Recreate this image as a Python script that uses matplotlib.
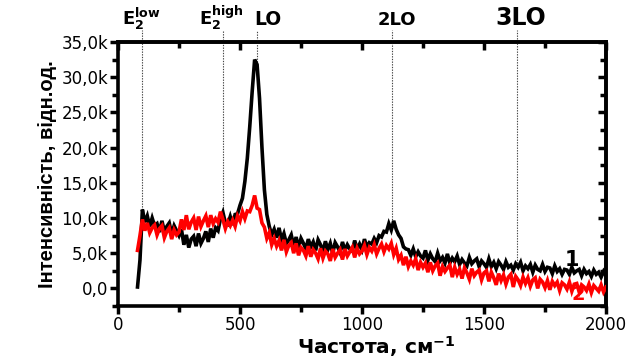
import numpy as np
import matplotlib
matplotlib.use("Agg")
import matplotlib.pyplot as plt
from matplotlib.ticker import MultipleLocator, FuncFormatter, NullFormatter

plt.rcParams['mathtext.fontset'] = 'dejavusans'

# Raman shift grid, cm^-1 (step 10)
shift = np.arange(80, 2001, 10)

# Spectrum 1 (black), intensity in thousands
spec1 = [
    0.2, 4.0, 11.2, 9.4, 10.3, 8.8, 10.0, 8.9, 9.2, 8.0,
    9.6, 8.1, 8.8, 9.3, 7.7, 8.9, 8.2, 7.5, 8.4, 6.2,
    7.6, 5.8, 7.0, 7.4, 6.0, 7.8, 6.4, 7.1, 8.1, 6.6,
    8.5, 7.2, 8.6, 8.2, 9.9, 10.8, 9.3, 9.1, 10.2, 9.0,
    10.5, 10.6, 11.8, 12.8, 15.2, 18.5, 23.0, 28.0, 32.5, 31.8,
    27.0, 20.0, 14.0, 10.5, 8.8, 7.6, 8.4, 7.2, 8.6, 6.9,
    7.8, 6.4, 6.9, 7.6, 6.0, 7.3, 5.8, 7.1, 6.4, 5.6,
    7.0, 5.9, 6.6, 5.4, 6.9, 6.2, 5.2, 6.7, 5.5, 6.4,
    5.0, 6.5, 5.9, 5.1, 6.6, 5.4, 6.2, 5.6, 5.3, 6.8,
    5.6, 6.3, 5.5, 7.0, 5.9, 6.5, 6.3, 7.1, 6.5, 7.5,
    7.3, 8.1, 8.0, 9.2, 8.3, 9.6, 8.4, 7.6, 7.1, 5.9,
    5.6, 5.5, 4.7, 5.6, 4.5, 5.2, 4.6, 4.3, 5.4, 4.0,
    4.9, 4.2, 3.8, 5.0, 3.9, 4.4, 3.6, 4.9, 3.6, 4.3,
    3.8, 4.6, 3.4, 4.1, 3.6, 3.2, 4.4, 3.5, 3.9, 4.2,
    3.1, 3.9, 3.5, 3.0, 4.2, 3.1, 3.7, 2.8, 3.8, 3.3,
    2.7, 3.8, 3.0, 3.3, 2.6, 3.5, 3.0, 3.7, 2.5, 3.2,
    2.8, 3.4, 2.3, 3.3, 2.7, 2.5, 3.4, 2.4, 3.0, 2.9,
    2.1, 3.2, 2.4, 2.8, 2.0, 2.7, 2.6, 2.0, 3.0, 2.2,
    2.5, 2.7, 1.8, 2.7, 2.1, 2.4, 1.7, 2.6, 2.0, 2.3,
    1.6, 2.4, 1.8,
]

# Spectrum 2 (red), intensity in thousands
spec2 = [
    5.4, 7.5, 9.8, 8.2, 9.3, 7.9, 8.6, 9.0, 7.6, 8.5,
    8.9, 7.2, 8.1, 8.6, 7.0, 8.3, 7.6, 8.0, 9.8, 8.3,
    10.4, 8.4, 9.4, 10.0, 8.3, 10.2, 8.8, 9.6, 10.3, 8.7,
    10.4, 9.2, 9.9, 9.4, 10.9, 9.8, 8.5, 9.5, 8.9, 9.7,
    8.8, 10.3, 9.6, 10.9, 9.9, 11.0, 10.9, 11.8, 13.2, 11.4,
    11.2, 9.3, 8.7, 7.1, 7.9, 6.2, 7.1, 6.0, 6.8, 5.4,
    6.9, 5.2, 6.1, 6.5, 5.0, 6.4, 4.7, 5.8, 5.4, 4.6,
    6.0, 4.5, 5.5, 5.0, 4.2, 5.7, 4.3, 5.3, 4.9, 3.9,
    5.6, 4.4, 5.0, 5.5, 4.1, 5.6, 4.6, 5.2, 5.8, 4.4,
    5.7, 4.9, 5.3, 6.1, 4.8, 5.8, 5.3, 6.2, 4.9, 5.7,
    6.3, 5.2, 6.1, 5.6, 6.4, 4.8, 5.7, 4.1, 4.7, 3.3,
    4.5, 3.1, 3.9, 3.3, 4.2, 2.6, 3.7, 3.0, 3.6, 2.3,
    3.7, 2.5, 3.2, 3.6, 1.8, 3.1, 2.4, 2.9, 3.3, 1.6,
    3.0, 2.0, 2.7, 1.4, 2.9, 2.2, 1.3, 2.8, 1.8, 2.3,
    2.6, 1.2, 2.2, 2.5, 1.0, 2.3, 1.5, 0.5, 2.1, 1.1,
    1.9, 0.6, 1.6, 2.0, 0.2, 1.7, 1.2, 0.4, 1.6, 0.7,
    1.5, 0.3, 1.2, 1.5, 0.0, 1.3, 0.9, 0.1, 1.1, -0.2,
    1.0, 0.4, 0.9, -0.3, 0.8, 0.5, -0.1, 0.9, -0.4, 0.6,
    0.7, -0.5, 0.5, 0.2, -0.3, 0.6, -0.6, 0.4, 0.0, -0.4,
    0.5, -0.5, 0.2,
]

# Phonon mode markers
mode_pos = [97, 429, 570, 1123, 1635]
mode_labels = [r'$\mathbf{E_2^{low}}$', r'$\mathbf{E_2^{high}}$', 'LO', '2LO', '3LO']

spec1 = np.array(spec1) * 1000
spec2 = np.array(spec2) * 1000

fig = plt.figure(figsize=(6.33, 3.63), dpi=100)
ax = fig.add_axes([118/633, 57/363, 488/633, 264/363])

ax.plot(shift, spec1, color='black', lw=2.6, solid_joinstyle='miter', zorder=3)
ax.plot(shift, spec2, color='#ff0000', lw=2.6, solid_joinstyle='miter', zorder=4)

ax.set_xlim(0, 2000)
ax.set_ylim(-2500, 35000)

# dotted marker lines from above the axes down to curve 1
ytop = 36700
for p in mode_pos:
    yb = np.interp(p, shift, spec1) + 300
    ax.plot([p, p], [yb, ytop], ls=(0, (1.2, 1.2)), color='#444444', lw=0.8,
            clip_on=False, zorder=2)

lab_font = dict(family='DejaVu Sans', weight='bold', color='black')
tr = ax.get_xaxis_transform()
yl = 1.064
ax.text(16, yl, mode_labels[0], transform=tr, ha='left', va='baseline',
        fontsize=13, **lab_font)
ax.text(330, yl, mode_labels[1], transform=tr, ha='left', va='baseline',
        fontsize=13, **lab_font)
ax.text(557, yl, mode_labels[2], transform=tr, ha='left', va='baseline',
        fontsize=13.5, **lab_font)
ax.text(1143, yl, mode_labels[3], transform=tr, ha='center', va='baseline',
        fontsize=13, **lab_font)
ax.text(1652, yl, mode_labels[4], transform=tr, ha='center', va='baseline',
        fontsize=17, **lab_font)

# curve numbers
ax.text(1861, 4000, '1', ha='center', va='center', fontsize=15,
        family='DejaVu Sans', weight='bold', color='black', zorder=5)
ax.text(1885, -900, '2', ha='center', va='center', fontsize=14,
        family='DejaVu Sans', weight='bold', color='#ff0000', zorder=5)

# ticks
ax.xaxis.set_major_locator(MultipleLocator(500))
ax.xaxis.set_minor_locator(MultipleLocator(250))
ax.yaxis.set_major_locator(MultipleLocator(5000))
ax.yaxis.set_minor_locator(MultipleLocator(2500))

def yfmt(v, pos):
    if abs(v) < 1e-6:
        return '0,0'
    return ('%.1fk' % (v / 1000)).replace('.', ',')

ax.yaxis.set_major_formatter(FuncFormatter(yfmt))
ax.xaxis.set_major_formatter(FuncFormatter(lambda v, p: '%d' % v))

ax.tick_params(axis='both', which='both', width=2.5, labelsize=12, pad=1,
               direction='out', top=False, right=False)
ax.tick_params(axis='both', which='major', length=6)
ax.tick_params(axis='both', which='minor', length=4)
for lab in ax.get_xticklabels() + ax.get_yticklabels():
    lab.set_family('DejaVu Sans')

# top and right: inward ticks, no labels
secx = ax.secondary_xaxis('top')
secx.xaxis.set_major_locator(MultipleLocator(500))
secx.xaxis.set_minor_locator(MultipleLocator(250))
secx.xaxis.set_major_formatter(NullFormatter())
secx.tick_params(axis='x', which='both', direction='in', width=2.5)
secx.tick_params(axis='x', which='major', length=6)
secx.tick_params(axis='x', which='minor', length=4)
secy = ax.secondary_yaxis('right')
secy.yaxis.set_major_locator(MultipleLocator(5000))
secy.yaxis.set_minor_locator(MultipleLocator(2500))
secy.yaxis.set_major_formatter(NullFormatter())
secy.tick_params(axis='y', which='both', direction='in', width=2.5)
secy.tick_params(axis='y', which='major', length=6)
secy.tick_params(axis='y', which='minor', length=4)

for a in (ax, secx, secy):
    for s in a.spines.values():
        s.set_linewidth(2.6)

ax.set_xlabel('Частота, см$^{\\mathbf{-1}}$', family='DejaVu Sans', weight='bold',
              fontsize=14.5)
ax.xaxis.set_label_coords(0.53, -0.108, transform=ax.transAxes)
ax.xaxis.label.set_va('top')
ax.set_ylabel('Інтенсивність, відн.од.', family='Liberation Sans', weight='bold',
              fontsize=14.5, labelpad=3)

fig.savefig('out.png', dpi=100)
